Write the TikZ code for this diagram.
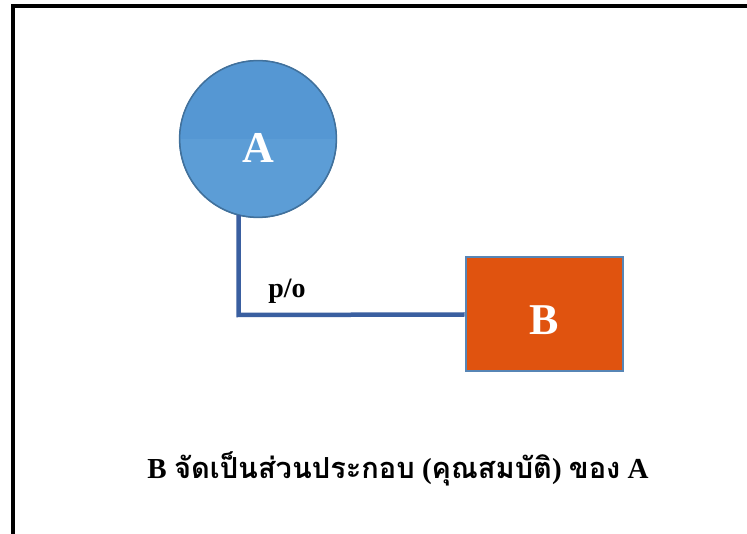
\documentclass[tikz,border=0pt]{standalone}
\usepackage{fontspec}
\setmainfont{Liberation Serif}
\newfontfamily\thaifont[Script=Thai]{Loma}
\definecolor{circfill}{HTML}{5C9DD6}
\definecolor{circtop}{HTML}{5597D3}
\definecolor{circedge}{HTML}{41719C}
\definecolor{linkblue}{HTML}{3A5FA0}
\definecolor{boxfill}{HTML}{E0530F}
\definecolor{boxedge}{HTML}{5785B5}
\tikzset{
  entity/.style={circle, minimum size=157pt, inner sep=0pt, draw=circedge, line width=1.3pt,
    fill=circfill},
  part/.style={rectangle, minimum width=157pt, minimum height=114pt, inner sep=0pt,
    draw=boxedge, line width=2pt, fill=boxfill},
  biglbl/.style={text=white, inner sep=0pt, font=\fontsize{44}{44}\selectfont\bfseries},
  link/.style={draw=linkblue, line width=4.5pt},
  lbl/.style={font=\fontsize{28}{28}\selectfont\bfseries, text=black, inner sep=0pt},
  caption/.style={font=\fontsize{29}{32}\selectfont\bfseries, text=black, inner sep=0pt}
}
\begin{document}
\begin{tikzpicture}[x=1pt, y=-1pt]
  \useasboundingbox (0,0) rectangle (747,534);
  \fill[white] (0,0) rectangle (747,534);
  % outer frame, running past the right and bottom edges
  \begin{scope}
    \clip (0,0) rectangle (747,534);
    \draw[black, line width=4pt] (13,800) -- (13,6.5) -- (800,6.5);
  \end{scope}
  % connector from A down and across to B
  \coordinate (bend) at (238.5,315);
  \node[part] (b) at (544,314.5) {};
  \node[biglbl] (blabel) at (544,320.5) {B};
  \node[entity] (a) at (258,139) {};
  \begin{scope}
    \clip (a.center) circle (78.3pt);
    \fill[circtop] (179,60) rectangle (337,139);
  \end{scope}
  \draw[circedge, line width=1.3pt] (a.center) circle (78.3pt);
  \node[biglbl] (alabel) at (258,148) {A};
  \draw[link] (a.south -| bend) ++(0,-3) -- (bend) -- (b.west);
  \node[lbl] (po) at (287,291) {p/o};
  \node[caption] (cap) at (398,469)
    {B {\thaifont จัดเป็นส่วนประกอบ} ({\thaifont คุณสมบัติ}) {\thaifont ของ} A};
\end{tikzpicture}
\end{document}
